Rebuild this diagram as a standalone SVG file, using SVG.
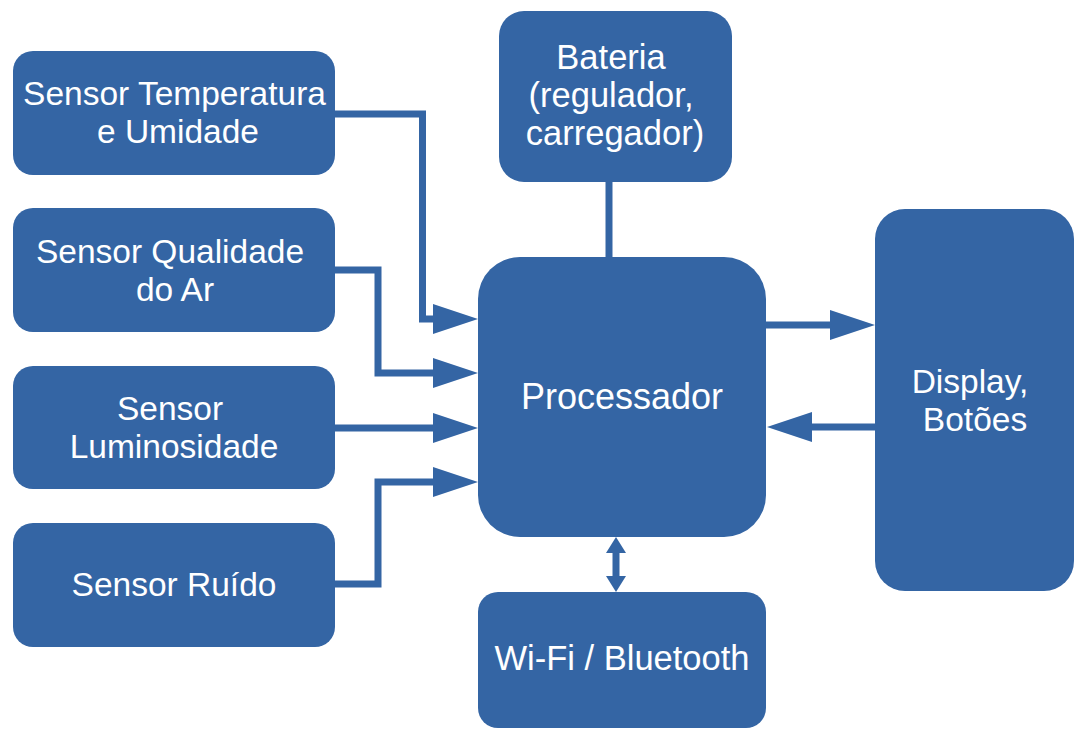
<svg xmlns="http://www.w3.org/2000/svg" width="1082" height="745" viewBox="0 0 1082 745">
<style>
.box{fill:#3465a4}
.lbl{fill:#ffffff;font-family:"Liberation Sans",Arial,sans-serif;font-size:33.5px;text-anchor:middle}
.mid{font-size:34.5px}
.big{font-size:36px}
.con{fill:none;stroke:#3465a4;stroke-width:7;stroke-linejoin:miter}
</style>
<defs>
<marker id="ah" markerUnits="userSpaceOnUse" markerWidth="45" markerHeight="30" refX="0" refY="15" orient="auto" overflow="visible">
<path d="M0,0 L45,15 L0,30 Z" fill="#3465a4"/>
</marker>
<marker id="sh" markerUnits="userSpaceOnUse" markerWidth="16" markerHeight="20" refX="0" refY="10" orient="auto-start-reverse" overflow="visible">
<path d="M0,0 L16,10 L0,20 Z" fill="#3465a4"/>
</marker>
</defs>
<rect width="1082" height="745" fill="#ffffff"/>
<g id="connectors">
<path class="con" d="M335,114 H422.5 V319 H433" marker-end="url(#ah)"/>
<path class="con" d="M335,270 H378 V373 H433" marker-end="url(#ah)"/>
<path class="con" d="M335,428 H433" marker-end="url(#ah)"/>
<path class="con" d="M335,584 H378 V482 H433" marker-end="url(#ah)"/>
<path class="con" d="M609,182 V257"/>
<path class="con" d="M766,325 H830" marker-end="url(#ah)"/>
<path class="con" d="M875,427 H812" marker-end="url(#ah)"/>
<path class="con" d="M616,553 V576" marker-start="url(#sh)" marker-end="url(#sh)"/>
</g>
<g id="sensor-temp">
<rect class="box" x="13" y="51" width="322" height="124" rx="20"/>
<text class="lbl" x="174.5" y="105">Sensor Temperatura</text>
<text class="lbl" x="178" y="143">e Umidade</text>
</g>
<g id="sensor-ar">
<rect class="box" x="13" y="208" width="322" height="124" rx="20"/>
<text class="lbl" x="170" y="263">Sensor Qualidade</text>
<text class="lbl" x="175" y="301">do Ar</text>
</g>
<g id="sensor-luz">
<rect class="box" x="13" y="366" width="322" height="123" rx="20"/>
<text class="lbl" x="170" y="420">Sensor</text>
<text class="lbl" x="174" y="458">Luminosidade</text>
</g>
<g id="sensor-ruido">
<rect class="box" x="13" y="523" width="322" height="124" rx="20"/>
<text class="lbl" x="174" y="596">Sensor Ruído</text>
</g>
<g id="bateria">
<rect class="box" x="499" y="11" width="233" height="171" rx="25"/>
<text class="lbl mid" x="611" y="69">Bateria</text>
<text class="lbl mid" x="611" y="107">(regulador,</text>
<text class="lbl mid" x="615" y="145">carregador)</text>
</g>
<g id="processador">
<rect class="box" x="478" y="257" width="288" height="280" rx="42"/>
<text class="lbl big" x="622" y="409">Processador</text>
</g>
<g id="display">
<rect class="box" x="875" y="209" width="199" height="382" rx="30"/>
<text class="lbl" x="970" y="393">Display,</text>
<text class="lbl" x="975" y="431">Botões</text>
</g>
<g id="wifi">
<rect class="box" x="478" y="592" width="288" height="136" rx="20"/>
<text class="lbl mid" x="622" y="670">Wi-Fi / Bluetooth</text>
</g>
</svg>
